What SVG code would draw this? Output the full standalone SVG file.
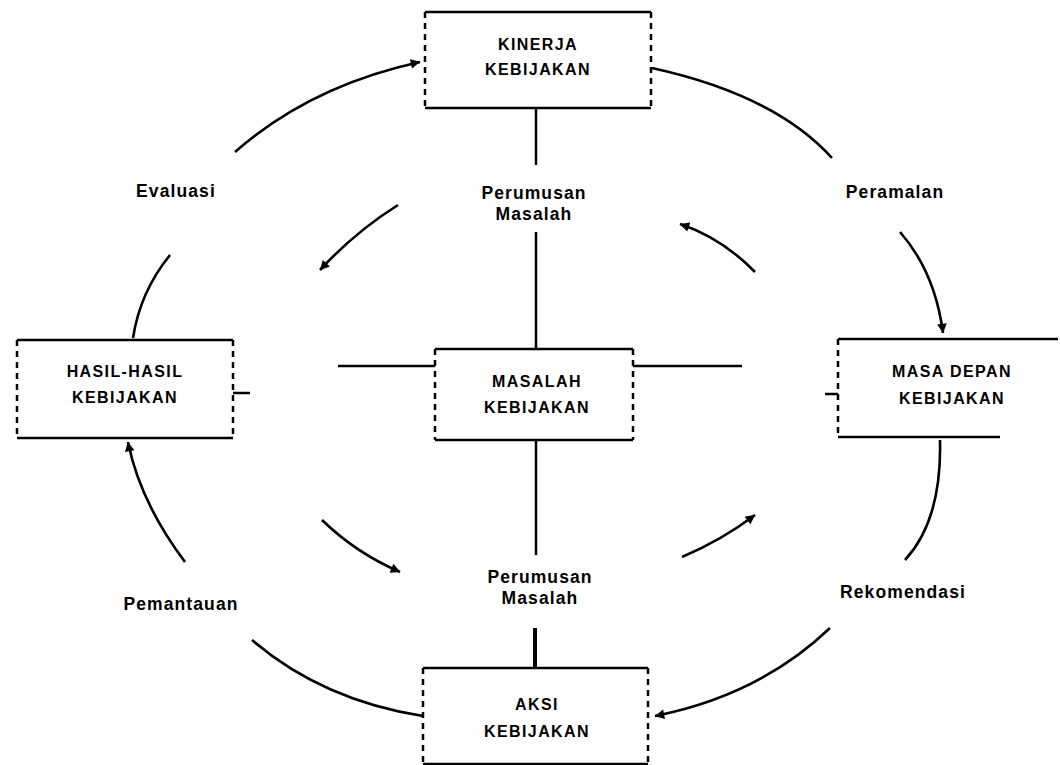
<svg xmlns="http://www.w3.org/2000/svg" width="1060" height="765" viewBox="0 0 1060 765">
<style>
.box{fill:#fff;stroke:none}
.solid{stroke:#000;stroke-width:2.5;fill:none}
.dash{stroke:#000;stroke-width:2.5;fill:none;stroke-dasharray:6 5}
.t{font-family:"Liberation Sans",Arial,sans-serif;font-weight:bold;font-size:16px;letter-spacing:1.4px;fill:#000;text-anchor:middle}
.lbl{font-family:"Liberation Sans",Arial,sans-serif;font-weight:bold;font-size:17.5px;letter-spacing:1.1px;fill:#000;text-anchor:middle}
.arc{stroke:#000;stroke-width:2.6;fill:none}
</style>
<defs>
<marker id="ah" viewBox="0 0 10 10" refX="9" refY="5" markerWidth="6" markerHeight="6" orient="auto" markerUnits="userSpaceOnUse" style="overflow:visible">
<path d="M0,0 L10,5 L0,10 z" fill="#000" transform="scale(1.6) translate(-4,-2)"/>
</marker>
</defs>
<rect width="1060" height="765" fill="#fff"/>
<g id="connectors">
<line class="solid" x1="536" y1="108" x2="536" y2="165"/>
<line class="solid" x1="536" y1="232" x2="536" y2="349"/>
<line class="solid" x1="536" y1="440" x2="536" y2="555"/>
<line x1="535" y1="628" x2="535" y2="668" stroke="#000" stroke-width="4"/>
<line class="solid" x1="338" y1="366" x2="435" y2="366"/>
<line class="solid" x1="633" y1="366" x2="742" y2="366"/>
<line class="solid" x1="825" y1="394" x2="838" y2="394"/>
<line class="solid" x1="233" y1="393" x2="250" y2="393"/>
<path class="arc" d="M133,338 Q140,292 170,255"/>
<path class="arc" d="M235,152 Q310,86 420,62" marker-end="url(#ah)"/>
<path class="arc" d="M652,68 Q775,95 832,158"/>
<path class="arc" d="M900,232 Q935,272 943,333" marker-end="url(#ah)"/>
<path class="arc" d="M940,440 Q942,520 905,560"/>
<path class="arc" d="M830,628 Q760,695 655,716" marker-end="url(#ah)"/>
<path class="arc" d="M423,716 Q322,700 252,640"/>
<path class="arc" d="M185,562 Q140,502 128,442" marker-end="url(#ah)"/>
<path class="arc" d="M398,205 Q355,232 320,270" marker-end="url(#ah)"/>
<path class="arc" d="M755,272 Q722,238 680,224" marker-end="url(#ah)"/>
<path class="arc" d="M322,520 Q356,553 400,572" marker-end="url(#ah)"/>
<path class="arc" d="M682,557 Q722,540 755,515" marker-end="url(#ah)"/>
</g>
<g id="kinerja">
<rect class="box" x="425" y="12" width="226" height="96"/>
<line class="solid" x1="425" y1="12" x2="651" y2="12"/>
<line class="solid" x1="425" y1="108" x2="651" y2="108"/>
<line class="dash" x1="425" y1="12" x2="425" y2="108"/>
<line class="dash" x1="651" y1="12" x2="651" y2="108"/>
<text class="t" x="538" y="50">KINERJA</text>
<text class="t" x="538" y="75">KEBIJAKAN</text>
</g>
<g id="hasil">
<rect class="box" x="17" y="340" width="216" height="98"/>
<line class="solid" x1="17" y1="340" x2="233" y2="340"/>
<line class="solid" x1="17" y1="438" x2="233" y2="438"/>
<line class="dash" x1="17" y1="340" x2="17" y2="438"/>
<line class="dash" x1="233" y1="340" x2="233" y2="438"/>
<text class="t" x="125" y="377">HASIL-HASIL</text>
<text class="t" x="125" y="403">KEBIJAKAN</text>
</g>
<g id="masalah">
<rect class="box" x="435" y="349" width="198" height="91"/>
<line class="solid" x1="435" y1="349" x2="633" y2="349"/>
<line class="solid" x1="435" y1="440" x2="633" y2="440"/>
<line class="dash" x1="435" y1="349" x2="435" y2="440"/>
<line class="dash" x1="633" y1="349" x2="633" y2="440"/>
<text class="t" x="537" y="387">MASALAH</text>
<text class="t" x="537" y="413">KEBIJAKAN</text>
</g>
<g id="masadepan">
<rect class="box" x="838" y="339" width="220" height="98"/>
<line class="solid" x1="838" y1="339" x2="1058" y2="339"/>
<line class="solid" x1="838" y1="437" x2="1000" y2="437"/>
<line class="dash" x1="838" y1="339" x2="838" y2="437"/>
<text class="t" x="952" y="377">MASA DEPAN</text>
<text class="t" x="952" y="404">KEBIJAKAN</text>
</g>
<g id="aksi">
<rect class="box" x="423" y="668" width="225" height="97"/>
<line class="solid" x1="423" y1="668" x2="648" y2="668"/>
<line class="solid" x1="423" y1="764" x2="648" y2="764"/>
<line class="dash" x1="423" y1="668" x2="423" y2="765"/>
<line class="dash" x1="648" y1="668" x2="648" y2="765"/>
<text class="t" x="537" y="710">AKSI</text>
<text class="t" x="537" y="737">KEBIJAKAN</text>
</g>
<g id="labels">
<text class="lbl" x="176" y="197">Evaluasi</text>
<text class="lbl" x="895" y="198">Peramalan</text>
<text class="lbl" x="181" y="610">Pemantauan</text>
<text class="lbl" x="903" y="598">Rekomendasi</text>
<text class="lbl" x="534" y="199">Perumusan</text>
<text class="lbl" x="534" y="220">Masalah</text>
<text class="lbl" x="540" y="583">Perumusan</text>
<text class="lbl" x="540" y="604">Masalah</text>
</g>
</svg>
